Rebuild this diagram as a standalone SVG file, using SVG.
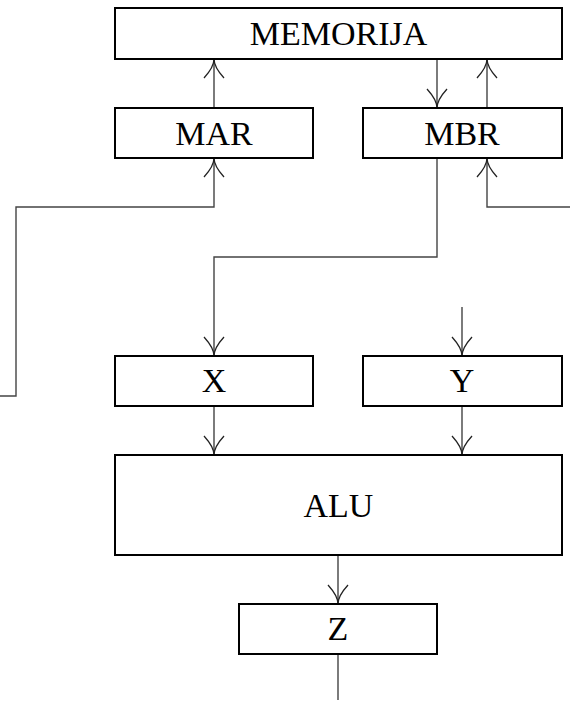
<svg xmlns="http://www.w3.org/2000/svg" width="570" height="701" viewBox="0 0 570 701">
<style>
.box{fill:#fff;stroke:#000;stroke-width:2}
.lbl{font-family:"Liberation Serif","Times New Roman",serif;font-size:34px;fill:#000;text-anchor:middle}
.con{fill:none;stroke:#444;stroke-width:1.4}
</style>
<defs>
<marker id="arr" markerUnits="userSpaceOnUse" markerWidth="24" markerHeight="24" viewBox="-21 -12 23 24" refX="0" refY="0" orient="auto" overflow="visible">
<path d="M-19,-10 Q-8,0 0,0 M-19,10 Q-8,0 0,0" fill="none" stroke="#222" stroke-width="1.3"/>
</marker>
</defs>
<rect width="570" height="701" fill="#fff"/>
<g id="connectors" class="con">
<path d="M214,108 L214,59" marker-end="url(#arr)"/>
<path d="M437,59 L437,108" marker-end="url(#arr)"/>
<path d="M487,108 L487,59" marker-end="url(#arr)"/>
<path d="M0,396 L16,396 L16,207 L214,207 L214,158" marker-end="url(#arr)"/>
<path d="M570,207 L487,207 L487,158" marker-end="url(#arr)"/>
<path d="M437,158 L437,257 L214,257 L214,356" marker-end="url(#arr)"/>
<path d="M462,307 L462,356" marker-end="url(#arr)"/>
<path d="M214,406 L214,455" marker-end="url(#arr)"/>
<path d="M462,406 L462,455" marker-end="url(#arr)"/>
<path d="M338,555 L338,604" marker-end="url(#arr)"/>
<path d="M338,654 L338,700"/>
</g>
<g id="memorija"><rect class="box" x="115" y="8" width="447" height="51"/><text class="lbl" x="338.5" y="45">MEMORIJA</text></g>
<g id="mar"><rect class="box" x="115" y="108" width="198" height="50"/><text class="lbl" x="214" y="145">MAR</text></g>
<g id="mbr"><rect class="box" x="363" y="108" width="199" height="50"/><text class="lbl" x="462" y="145">MBR</text></g>
<g id="x"><rect class="box" x="115" y="356" width="198" height="50"/><text class="lbl" x="214" y="392">X</text></g>
<g id="y"><rect class="box" x="363" y="356" width="199" height="50"/><text class="lbl" x="462" y="392">Y</text></g>
<g id="alu"><rect class="box" x="115" y="455" width="447" height="100"/><text class="lbl" x="338.5" y="517">ALU</text></g>
<g id="z"><rect class="box" x="239" y="604" width="198" height="50"/><text class="lbl" x="338" y="640">Z</text></g>
</svg>
